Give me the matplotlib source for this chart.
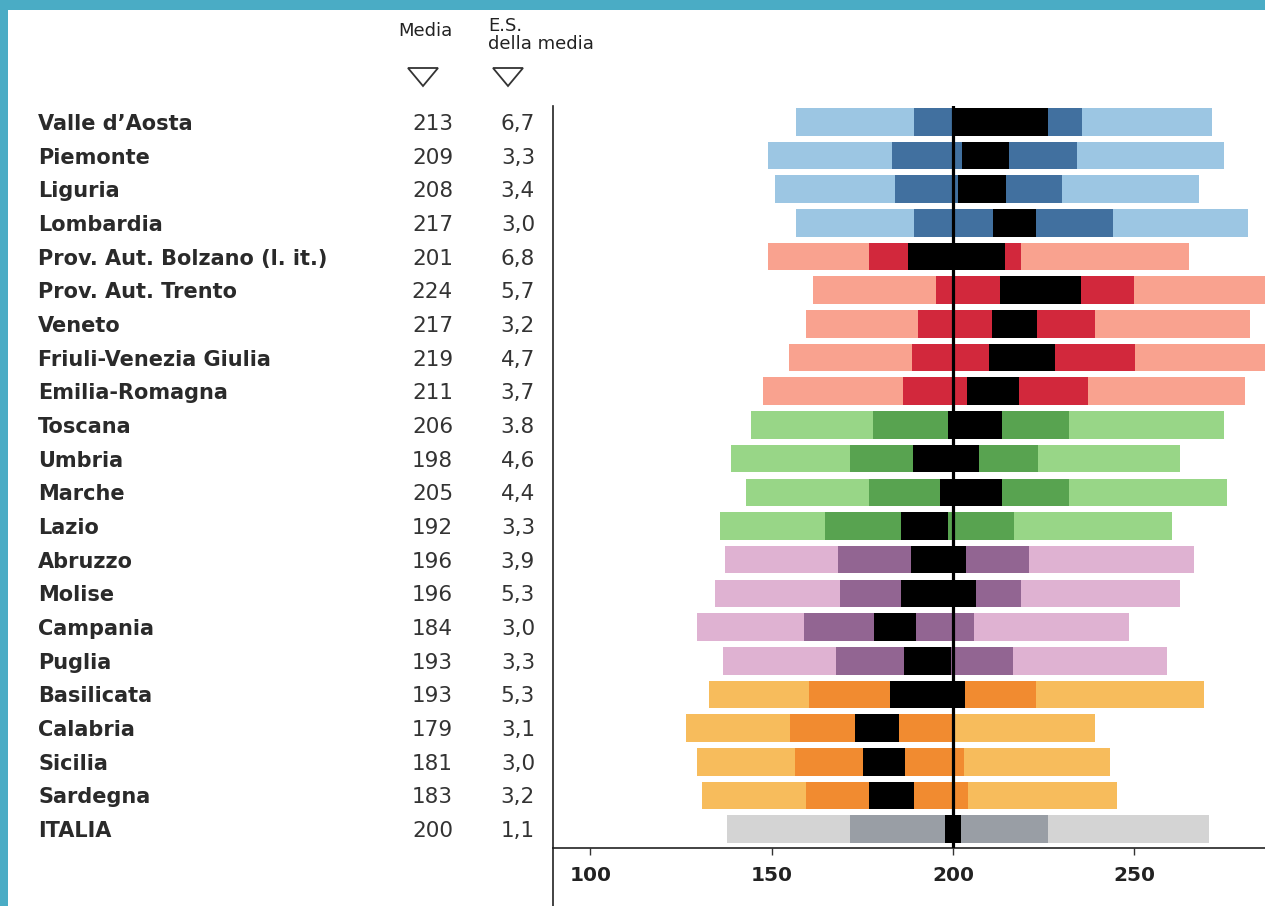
import matplotlib.pyplot as plt
from matplotlib.lines import Line2D
from matplotlib.patches import Rectangle, Polygon

regions = ["Valle d\u2019Aosta", "Piemonte", "Liguria", "Lombardia",
           "Prov. Aut. Bolzano (l. it.)", "Prov. Aut. Trento", "Veneto",
           "Friuli-Venezia Giulia", "Emilia-Romagna", "Toscana", "Umbria",
           "Marche", "Lazio", "Abruzzo", "Molise", "Campania", "Puglia",
           "Basilicata", "Calabria", "Sicilia", "Sardegna", "ITALIA"]
media = [213, 209, 208, 217, 201, 224, 217, 219, 211, 206, 198,
         205, 192, 196, 196, 184, 193, 193, 179, 181, 183, 200]
es = [6.7, 3.3, 3.4, 3.0, 6.8, 5.7, 3.2, 4.7, 3.7, 3.8, 4.6,
      4.4, 3.3, 3.9, 5.3, 3.0, 3.3, 5.3, 3.1, 3.0, 3.2, 1.1]
es_labels = ["6,7", "3,3", "3,4", "3,0", "6,8", "5,7", "3,2", "4,7", "3,7",
             "3.8", "4,6", "4,4", "3,3", "3,9", "5,3", "3,0", "3,3", "5,3",
             "3,1", "3,0", "3,2", "1,1"]
# percentiles
p5 = [156.7, 148.9, 151.0, 156.8, 148.9, 161.3, 159.5, 154.8, 147.6, 144.2, 138.8,
      142.8, 135.7, 137.1, 134.3, 129.3, 136.6, 132.6, 126.5, 129.4, 130.7, 137.8]
p25 = [189.2, 183.2, 183.9, 189.3, 176.9, 195.3, 190.3, 188.7, 186.2, 177.9, 171.7,
       176.9, 164.6, 168.2, 168.7, 158.9, 167.7, 160.4, 155.0, 156.3, 159.5, 171.5]
p75 = [235.6, 234.3, 230.0, 244.1, 218.6, 249.9, 239.1, 250.2, 237.1, 231.9, 223.3,
       231.9, 216.8, 220.9, 218.6, 205.7, 216.4, 222.8, 199.8, 202.9, 204.2, 226.1]
p95 = [271.4, 274.6, 267.8, 281.4, 265.0, 290.0, 281.8, 290.0, 280.6, 274.6, 262.6,
       275.4, 260.3, 266.5, 262.6, 248.5, 259.0, 269.1, 239.1, 243.3, 245.3, 270.5]
group = [0, 0, 0, 0, 1, 1, 1, 1, 1, 2, 2, 2, 2, 3, 3, 3, 3, 4, 4, 4, 4, 5]

light = ["#9cc6e3", "#f9a28f", "#98d687", "#dfb2d2", "#f7bc5c", "#d4d4d4"]
dark = ["#41709f", "#d2283c", "#58a350", "#926592", "#f18b30", "#999ea5"]

W, H = 1265, 906
fig = plt.figure(figsize=(W / 100, H / 100), dpi=100)
fig.patch.set_facecolor("white")

ax = fig.add_axes([553 / W, 1 - 848 / H, 1 - 553 / W, (848 - 106) / H])
n = len(regions)
h = 0.82
for i in range(n):
    g = group[i]
    ax.barh(i, p95[i] - p5[i], left=p5[i], height=h, color=light[g], lw=0)
    ax.barh(i, p75[i] - p25[i], left=p25[i], height=h, color=dark[g], lw=0)
    lo = media[i] - 1.96 * es[i]
    ax.barh(i, 3.92 * es[i], left=lo, height=h, color="black", lw=0)
ax.axvline(200, color="black", lw=2.3, zorder=5)

ax.set_xlim(89.7, 286)
ax.set_ylim(21.56, -0.47)
ax.set_yticks([])
ax.set_xticks([100, 150, 200, 250])
ax.tick_params(axis="x", length=5, width=1, color="#333333", pad=8,
               labelsize=14.5, labelcolor="#222222")
for lab in ax.get_xticklabels():
    lab.set_fontweight("bold")
for s in ["top", "right"]:
    ax.spines[s].set_visible(False)
ax.spines["left"].set_color("#222222")
ax.spines["bottom"].set_color("#222222")
ax.spines["left"].set_linewidth(1.2)
ax.spines["bottom"].set_linewidth(1.2)

# left spine continues below the axis
fig.add_artist(Line2D([553 / W, 553 / W], [0, 1 - 848 / H], color="#222222", lw=1.2))

# row labels and table columns
for i in range(n):
    yc = 1 - (122 + 33.67 * i + 2) / H
    fig.text(38 / W, yc, regions[i], ha="left", va="center", fontsize=15,
             fontweight="bold", color="#2a2a2a")
    fig.text(453 / W, yc, str(media[i]), ha="right", va="center", fontsize=15.5,
             color="#333333")
    fig.text(535 / W, yc, es_labels[i], ha="right", va="center", fontsize=15.5,
             color="#333333")

# column headers
fig.text(425 / W, 1 - 31 / H, "Media", ha="center", va="center", fontsize=13,
         color="#222222")
fig.text(488 / W, 1 - 35 / H, "E.S.\ndella media", ha="left", va="center",
         fontsize=13, color="#222222", linespacing=1.0)
for cx in [423, 508]:
    tri = Polygon([[(cx - 15) / W, 1 - 68 / H], [(cx + 15) / W, 1 - 68 / H],
                   [cx / W, 1 - 86 / H]], closed=True, fill=False,
                  edgecolor="#333333", lw=1.3, transform=fig.transFigure)
    fig.add_artist(tri)

# teal frame
fig.add_artist(Rectangle((0, 1 - 10 / H), 1, 10 / H, color="#4aacc5",
                         transform=fig.transFigure, lw=0))
fig.add_artist(Rectangle((0, 0), 8 / W, 1, color="#4aacc5",
                         transform=fig.transFigure, lw=0))

fig.savefig("out.png", dpi=100)
